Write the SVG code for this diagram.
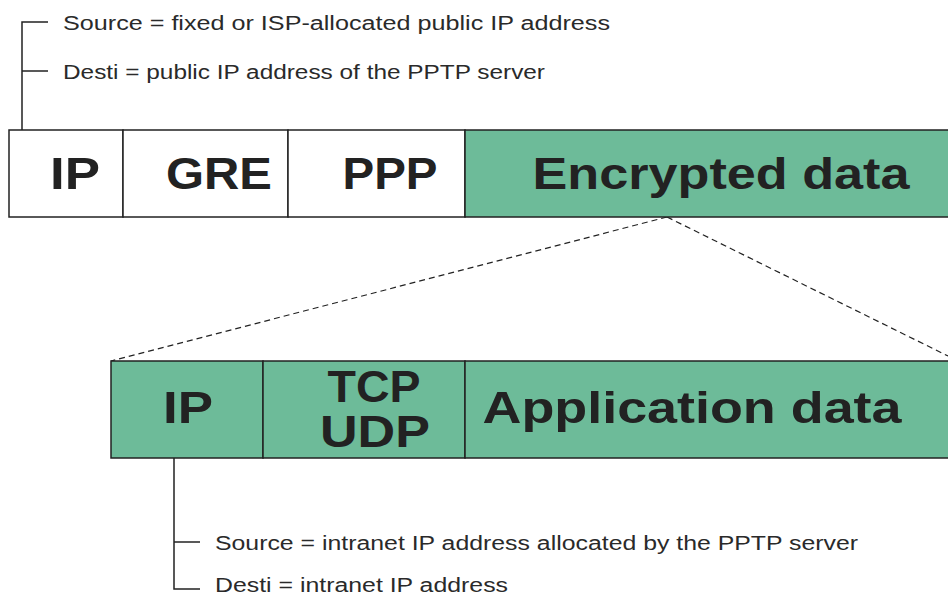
<svg xmlns="http://www.w3.org/2000/svg" width="948" height="597" viewBox="0 0 948 597">
<style>
.ln{stroke:#222;stroke-width:1.5;fill:none}
.cell{stroke:#222;stroke-width:1.5}
.w{fill:#fff}
.g{fill:#6dbb99}
.big{font-family:"Liberation Sans",Arial,sans-serif;font-weight:bold;font-size:44px;fill:#222}
.sm{font-family:"Liberation Sans",Arial,sans-serif;font-size:20px;fill:#2a2a2a}
.dash{stroke:#222;stroke-width:1.2;stroke-dasharray:6 4;fill:none}
</style>
<g id="connectors">
<polyline class="ln" points="48,22 22,22 22,130"/>
<line class="ln" x1="22" y1="71" x2="48" y2="71"/>
<polyline class="ln" points="174,458 174,589 200,589"/>
<line class="ln" x1="174" y1="542" x2="200" y2="542"/>
<line class="dash" x1="667" y1="217" x2="111" y2="361"/>
<line class="dash" x1="667" y1="217" x2="948" y2="356"/>
</g>
<g id="top-ip"><rect class="cell w" x="9" y="130" width="114" height="87"/><text class="big" x="75" y="189" text-anchor="middle" textLength="50" lengthAdjust="spacingAndGlyphs">IP</text></g>
<g id="top-gre"><rect class="cell w" x="123" y="130" width="165" height="87"/><text class="big" x="219" y="189" text-anchor="middle" textLength="106" lengthAdjust="spacingAndGlyphs">GRE</text></g>
<g id="top-ppp"><rect class="cell w" x="288" y="130" width="177" height="87"/><text class="big" x="390" y="189" text-anchor="middle" textLength="95" lengthAdjust="spacingAndGlyphs">PPP</text></g>
<g id="top-enc"><rect class="cell g" x="465" y="130" width="490" height="87"/><text class="big" x="721" y="189" text-anchor="middle" textLength="377" lengthAdjust="spacingAndGlyphs">Encrypted data</text></g>
<g id="bot-ip"><rect class="cell g" x="111" y="361" width="152" height="97"/><text class="big" x="188" y="423" text-anchor="middle" textLength="50" lengthAdjust="spacingAndGlyphs">IP</text></g>
<g id="bot-tcp"><rect class="cell g" x="263" y="361" width="202" height="97"/><text class="big" x="374" y="402" text-anchor="middle" textLength="93" lengthAdjust="spacingAndGlyphs">TCP</text><text class="big" x="375" y="447" text-anchor="middle" textLength="110" lengthAdjust="spacingAndGlyphs">UDP</text></g>
<g id="bot-app"><rect class="cell g" x="465" y="361" width="490" height="97"/><text class="big" x="692" y="423" text-anchor="middle" textLength="419" lengthAdjust="spacingAndGlyphs">Application data</text></g>
<g id="labels">
<text class="sm" x="63" y="30" textLength="547" lengthAdjust="spacingAndGlyphs">Source = fixed or ISP-allocated public IP address</text>
<text class="sm" x="63" y="79" textLength="482" lengthAdjust="spacingAndGlyphs">Desti = public IP address of the PPTP server</text>
<text class="sm" x="215" y="550" textLength="643" lengthAdjust="spacingAndGlyphs">Source = intranet IP address allocated by the PPTP server</text>
<text class="sm" x="215" y="592" textLength="293" lengthAdjust="spacingAndGlyphs">Desti = intranet IP address</text>
</g>
</svg>
